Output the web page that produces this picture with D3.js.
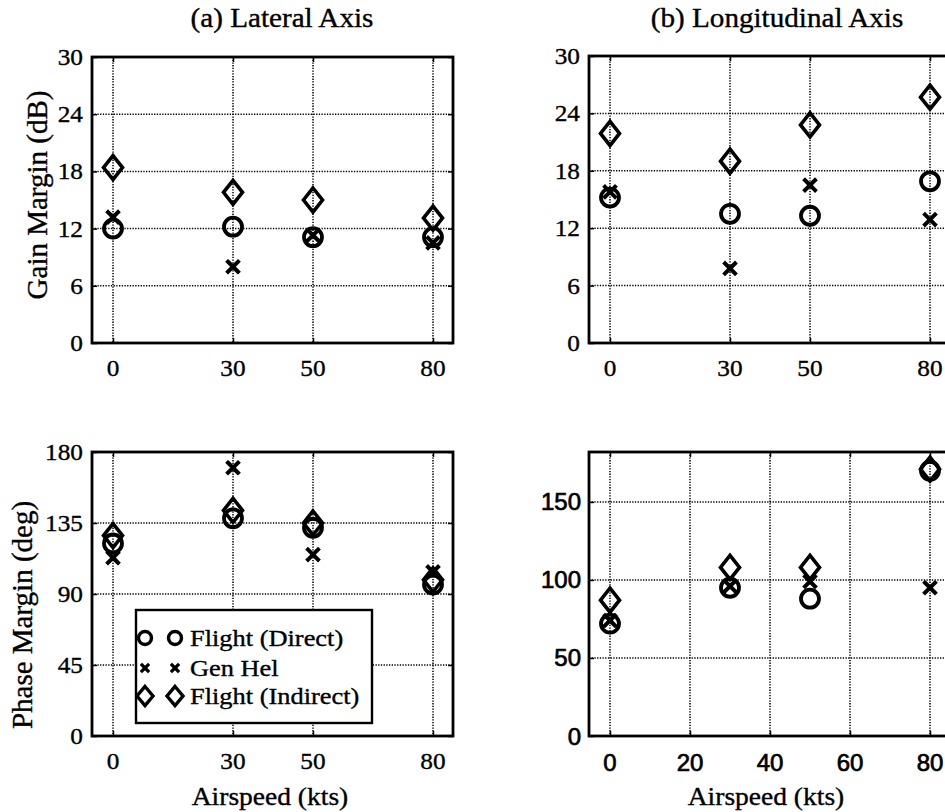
<!DOCTYPE html>
<html>
<head>
<meta charset="utf-8">
<script src="https://cdn.jsdelivr.net/npm/d3@7"></script>
<style>
  html, body { margin: 0; padding: 0; background: #fff; }
  svg { display: block; }
</style>
</head>
<body>
<svg id="fig" width="945" height="812"></svg>
<script>
// Airspeeds at which margins were identified
const speeds = [0, 30, 50, 80];

// Gain margin (dB), lateral axis
const gainLatDirect   = [12.0, 12.2, 11.1, 11.1];
const gainLatGenHel   = [13.2, 8.0, 11.3, 10.5];
const gainLatIndirect = [18.4, 15.8, 15.0, 13.1];

// Gain margin (dB), longitudinal axis
const gainLonDirect   = [15.2, 13.5, 13.3, 16.9];
const gainLonGenHel   = [15.8, 7.8, 16.5, 12.9];
const gainLonIndirect = [21.9, 19.0, 22.8, 25.7];

// Phase margin (deg), lateral axis
const phaseLatDirect   = [122, 138, 132, 96];
const phaseLatGenHel   = [113, 170, 115, 104];
const phaseLatIndirect = [127, 143, 135, 99];

// Phase margin (deg), longitudinal axis
const phaseLonDirect   = [72, 95, 88, 170];
const phaseLonGenHel   = [74, 96, 99, 95];
const phaseLonIndirect = [87, 108, 108, 171];

// Tick values
const speedTicks      = [0, 30, 50, 80];
const speedTicksEven  = [0, 20, 40, 60, 80];
const gainTicks       = [0, 6, 12, 18, 24, 30];
const phaseTicksLat   = [0, 45, 90, 135, 180];
const phaseTicksLon   = [0, 50, 100, 150];

const seriesNames = ["Flight (Direct)", "Gen Hel", "Flight (Indirect)"];

const svg = d3.select("#fig");
const SERIF = "'Liberation Serif', 'Times New Roman', serif";
const SANS = "'Liberation Sans', Arial, Helvetica, sans-serif";
const SX = 1.1; // horizontal stretch of serif lettering

function serifText(parent, x, y, str, size, anchor, rotate) {
  const tf = rotate
    ? `translate(${x},${y}) rotate(-90)`
    : `translate(${x},${y}) scale(${SX},1)`;
  return parent.append("text")
    .attr("transform", tf)
    .attr("font-family", SERIF)
    .attr("font-size", size)
    .attr("text-anchor", anchor || "middle")
    .attr("fill", "#000")
    .attr("stroke", "#000").attr("stroke-width", 0.35)
    .text(str);
}

function sansText(parent, x, y, str, size, anchor) {
  return parent.append("text")
    .attr("x", x).attr("y", y)
    .attr("font-family", SANS)
    .attr("font-size", size)
    .attr("text-anchor", anchor || "middle")
    .attr("fill", "#000")
    .attr("stroke", "#000").attr("stroke-width", 0.7)
    .text(str);
}

// Marker shapes
function circleMark(g, x, y, r, w) {
  g.append("circle").attr("cx", x).attr("cy", y).attr("r", r)
    .attr("fill", "none").attr("stroke", "#000").attr("stroke-width", w);
}
function crossMark(g, x, y, a, w) {
  g.append("path").attr("d", `M${x - a},${y - a}L${x + a},${y + a}M${x - a},${y + a}L${x + a},${y - a}`)
    .attr("fill", "none").attr("stroke", "#000").attr("stroke-width", w).attr("stroke-linecap", "square");
}
function diamondMark(g, x, y, hw, hh, w) {
  g.append("path").attr("d", `M${x},${y - hh}L${x + hw},${y}L${x},${y + hh}L${x - hw},${y}Z`)
    .attr("fill", "none").attr("stroke", "#000").attr("stroke-width", w).attr("stroke-linejoin", "miter");
}

function panel(opt) {
  const g = svg.append("g");
  const x = d3.scaleLinear().domain([-5.25, 85]).range([opt.left, opt.left + 361]);
  const y = d3.scaleLinear().domain(opt.yDomain).range([opt.bottom, opt.top]);
  const L = opt.left, R = opt.left + 361, T = opt.top, B = opt.bottom;

  // dotted grid
  const grid = g.append("g").attr("stroke", "#000").attr("stroke-width", 1.5)
    .attr("stroke-dasharray", "1.3,1.4").attr("fill", "none");
  opt.xTicks.forEach(v => grid.append("line").attr("x1", x(v)).attr("x2", x(v)).attr("y1", T).attr("y2", B));
  opt.yTicks.forEach(v => grid.append("line").attr("x1", L).attr("x2", R).attr("y1", y(v)).attr("y2", y(v)));

  // axes with inward ticks
  const axL = g.append("g").attr("transform", `translate(${L},0)`)
    .call(d3.axisRight(y).tickValues(opt.yTicks).tickSize(5).tickFormat(""));
  const axR = g.append("g").attr("transform", `translate(${R},0)`)
    .call(d3.axisLeft(y).tickValues(opt.yTicks).tickSize(5).tickFormat(""));
  const axB = g.append("g").attr("transform", `translate(0,${B})`)
    .call(d3.axisTop(x).tickValues(opt.xTicks).tickSize(5).tickFormat(""));
  const axT = g.append("g").attr("transform", `translate(0,${T})`)
    .call(d3.axisBottom(x).tickValues(opt.xTicks).tickSize(5).tickFormat(""));
  [axL, axR, axB, axT].forEach(a => {
    a.select(".domain").remove();
    a.selectAll("line").attr("stroke", "#000").attr("stroke-width", 1.5);
  });

  // frame
  g.append("rect").attr("x", L).attr("y", T).attr("width", R - L).attr("height", B - T)
    .attr("fill", "none").attr("stroke", "#000").attr("stroke-width", 2.8);

  // tick labels
  opt.yTicks.forEach(v => {
    if (opt.sans) sansText(g, L - 8, y(v) + 8.5, v, 24, "end");
    else serifText(g, L - 9, y(v) + 8, v, 23, "end");
  });
  opt.xTicks.forEach(v => {
    if (opt.sans) sansText(g, x(v), B + 35, v, 24, "middle");
    else serifText(g, x(v), B + 33, v, 23, "middle");
  });

  // markers
  const m = g.append("g");
  speeds.forEach((s, i) => circleMark(m, x(s), y(opt.direct[i]), 9, 3.8));
  speeds.forEach((s, i) => crossMark(m, x(s), y(opt.genhel[i]), 5, 4));
  speeds.forEach((s, i) => diamondMark(m, x(s), y(opt.indirect[i]), 9.5, 12, 3.6));

  if (opt.title) serifText(g, opt.titleX, 27, opt.title, 26.5, "middle");
  if (opt.yLabel) serifText(g, opt.yLabelX, opt.yLabelY, opt.yLabel, 29, "middle", true);
  if (opt.xLabel) serifText(g, opt.xLabelX, 805, opt.xLabel, 25, "middle");
  return { g, x, y };
}

panel({ left: 92, top: 57, bottom: 343, yDomain: [0, 30], xTicks: speedTicks, yTicks: gainTicks,
  direct: gainLatDirect, genhel: gainLatGenHel, indirect: gainLatIndirect,
  title: "(a) Lateral Axis", titleX: 282, yLabel: "Gain Margin (dB)", yLabelX: 47, yLabelY: 195 });

panel({ left: 589, top: 56, bottom: 343, yDomain: [0, 30], xTicks: speedTicks, yTicks: gainTicks,
  direct: gainLonDirect, genhel: gainLonGenHel, indirect: gainLonIndirect,
  title: "(b) Longitudinal Axis", titleX: 777 });

panel({ left: 92, top: 452, bottom: 736, yDomain: [0, 180], xTicks: speedTicks, yTicks: phaseTicksLat,
  direct: phaseLatDirect, genhel: phaseLatGenHel, indirect: phaseLatIndirect,
  yLabel: "Phase Margin (deg)", yLabelX: 32, yLabelY: 615, xLabel: "Airspeed (kts)", xLabelX: 270 });

panel({ left: 589, top: 452, bottom: 736, yDomain: [0, 182], xTicks: speedTicksEven, yTicks: phaseTicksLon,
  direct: phaseLonDirect, genhel: phaseLonGenHel, indirect: phaseLonIndirect, sans: true,
  xLabel: "Airspeed (kts)", xLabelX: 766 });

// legend
const lg = svg.append("g");
lg.append("rect").attr("x", 136).attr("y", 610).attr("width", 236).attr("height", 113)
  .attr("fill", "#fff").attr("stroke", "#000").attr("stroke-width", 2.4);
const rows = [638, 668, 696];
seriesNames.forEach((name, i) => {
  const cy = rows[i];
  [145, 175].forEach(cx => {
    if (i === 0) circleMark(lg, cx, cy, 6.5, 3.4);
    else if (i === 1) crossMark(lg, cx, cy, 3, 3.2);
    else diamondMark(lg, cx, cy, 8, 9.5, 3.4);
  });
  serifText(lg, 190, cy + 8, name, 24, "start");
});
</script>
</body>
</html>
